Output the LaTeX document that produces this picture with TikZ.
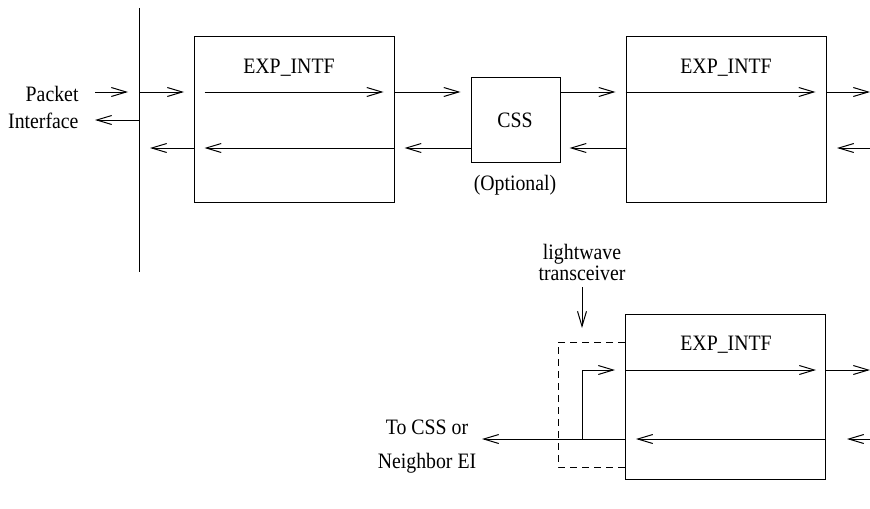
\documentclass[tikz,border=0pt]{standalone}
\usepackage{fontspec}
\setmainfont{Liberation Serif}[FakeStretch=0.9]
\usetikzlibrary{arrows.meta}
\begin{document}
\begin{tikzpicture}[x=0.5pt,y=-0.5pt,line width=0.5pt,
  >={Straight Barb[length=7.5pt,width=4.5pt]},
  font=\fontsize{11}{13}\selectfont]
\tikzset{blk/.style={draw,minimum width=100pt,minimum height=82.5pt,inner sep=0pt},
  txt/.style={anchor=base,inner sep=0pt}}
\useasboundingbox (0,0) rectangle (870,508);
% rows
\coordinate (r1) at (0,92);
\coordinate (r2) at (0,148);
\coordinate (r3) at (0,370);
\coordinate (r4) at (0,439);
% The blocks
\coordinate (bt) at (139,8);
\coordinate (bb) at (139,272);
\draw (bt) -- (bb);
\node[blk] (e1) at (294,119.5) {};
\node[blk] (e2) at (726,119.5) {};
\node[blk] (e3) at (725.5,397) {};
\node[draw,minimum width=44.5pt,minimum height=42pt,inner sep=0pt] (css) at (515.5,120) {};
\node[txt] (css l) at (515,127.5) {CSS};
\node[txt] (opt) at (515,190.5) {(Optional)};
\foreach \n/\x/\y in {e1/289/74, e2/726/74, e3/726/350}
  \node[txt] (\n l) at (\x,\y) {EXP\_INTF};
\node[txt,anchor=base east] (pk) at (79,101) {Packet};
\node[txt,anchor=base east] (pif) at (79,128) {Interface};
\node[txt] (lw) at (582,259) {lightwave};
\node[txt] (tr) at (582,280) {transceiver};
\node[txt] (to) at (427,434) {To CSS or};
\node[txt] (nb) at (427,468) {Neighbor EI};
%%%
% free ends
\coordinate (pa) at (95,92);
\coordinate (pb) at (128,92);
\coordinate (pc) at (95,120);
\coordinate (bi) at (139,120);
\coordinate (bo) at (184,92);
\coordinate (bl) at (150,148);
\coordinate (ra) at (870,92);
\coordinate (rb) at (837,148);
\coordinate (rc) at (870,370);
\coordinate (rd) at (847,439);
\coordinate (re) at (870,439);
\coordinate (rf) at (870,148);
\coordinate (lt) at (582,287);
\coordinate (lb) at (582,328);
\coordinate (tx) at (582,439);
\coordinate (ty) at (582,370);
\coordinate (to e) at (482,439);
%%%
% top row
\draw[->] (pa) -- (pb);
\draw[->] (bt |- r1) -- (bo);
\draw[->] ([xshift=5.5pt]e1.west |- r1) -- ([xshift=-5.5pt]e1.east |- r1);
\draw[->] (e1.east |- r1) -- ([xshift=-5pt]css.west |- r1);
\draw[->] (css.east |- r1) -- ([xshift=-5pt]e2.west |- r1);
\draw[->] (e2.west |- r1) -- ([xshift=-5.5pt]e2.east |- r1);
\draw[->] (e2.east |- r1) -- (ra);
% bottom row
\draw[->] (bi) -- (pc);
\draw[->] (e1.west |- r2) -- (bl);
\draw[->] (e1.east |- r2) -- ([xshift=5.5pt]e1.west |- r2);
\draw[->] (css.west |- r2) -- ([xshift=-33pt]css.west |- r2);
\draw[->] (e2.west |- r2) -- ([xshift=-28pt]e2.west |- r2);
\draw[->] (rf) -- (rb);
% lower block
\draw[->] (lt) -- (lb);
\draw[dash pattern=on 3.5pt off 2.5pt] ([yshift=-14pt]e3.north west) -| ([xshift=-33.5pt,yshift=6.5pt]e3.south west) -- ([yshift=6.5pt]e3.south west);
\draw[->] (tx) -- (ty) -- ([xshift=-5pt]e3.west |- r3);
\draw[->] (e3.west |- r3) -- ([xshift=-5pt]e3.east |- r3);
\draw[->] (e3.east |- r3) -- (rc);
\draw[->] (e3.west |- r4) -- (to e);
\draw[->] (e3.east |- r4) -- ([xshift=5.5pt]e3.west |- r4);
\draw[->] (re) -- (rd);
\end{tikzpicture}
\end{document}
